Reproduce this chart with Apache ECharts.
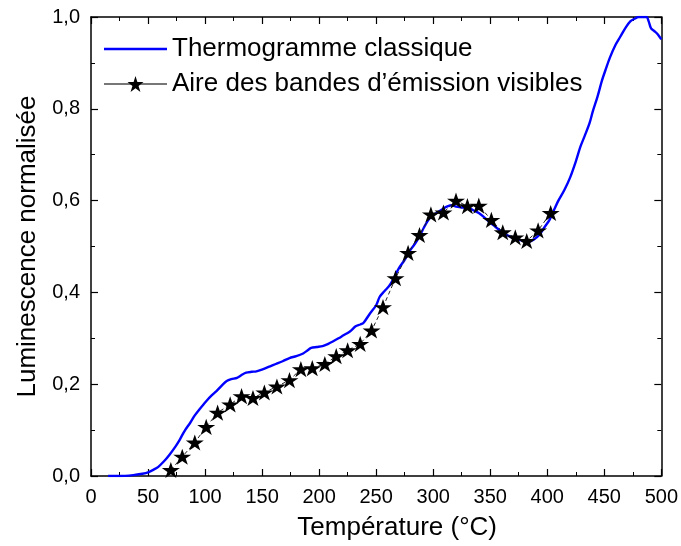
<!DOCTYPE html>
<html>
<head>
<meta charset="utf-8">
<script src="https://cdn.jsdelivr.net/npm/echarts@6/dist/echarts.min.js"></script>
<style>
  html, body { margin: 0; padding: 0; background: #fff; }
  #main { width: 681px; height: 546px; }
</style>
</head>
<body>
<div id="main"></div>
<script>
// Thermogramme classique (ligne bleue)
var thermoX = [15, 25, 37, 45, 50, 55, 59, 64, 69, 74, 78, 82, 87, 91, 95, 101, 106, 110, 115, 119,
    123, 128, 132, 136, 141, 145, 151, 157, 162, 168, 174, 180, 186, 190, 193, 198, 203, 208, 212, 217,
    221, 227, 232, 236, 239, 244, 250, 253, 257, 262, 266, 270, 275, 279, 284, 288, 292, 297, 301, 305,
    309, 313, 316, 320, 326, 332, 336, 340, 345, 349, 354, 358, 362, 367, 371, 375, 380, 384, 388, 393,
    397, 402, 406, 410, 415, 420, 425, 429, 433, 437, 440, 444, 448, 451, 455, 460, 464, 469, 473, 477,
    480, 484, 487, 489, 491, 494, 497, 500];
var thermoY = [0, 0, 0.002, 0.005, 0.008, 0.014, 0.020, 0.032, 0.047, 0.064, 0.080, 0.098, 0.116, 0.132, 0.145, 0.163, 0.176, 0.185, 0.198, 0.207,
    0.211, 0.214, 0.220, 0.225, 0.227, 0.228, 0.233, 0.239, 0.244, 0.250, 0.257, 0.261, 0.267, 0.274, 0.279, 0.281, 0.283, 0.288, 0.293, 0.300,
    0.306, 0.315, 0.326, 0.330, 0.334, 0.352, 0.372, 0.390, 0.402, 0.416, 0.434, 0.453, 0.471, 0.489, 0.506, 0.522, 0.542, 0.562, 0.570, 0.576,
    0.583, 0.588, 0.590, 0.587, 0.585, 0.583, 0.578, 0.573, 0.563, 0.554, 0.544, 0.536, 0.529, 0.522, 0.518, 0.515, 0.512, 0.511, 0.515, 0.525,
    0.540, 0.558, 0.580, 0.601, 0.623, 0.650, 0.685, 0.717, 0.742, 0.768, 0.795, 0.826, 0.862, 0.884, 0.912, 0.940, 0.957, 0.978, 0.991, 0.997,
    1.0, 1.0, 1.0, 0.99, 0.975, 0.969, 0.962, 0.951];

// Aire des bandes d'émission visibles (étoiles)
var starX = [70, 80, 91, 101, 111, 122, 132, 142, 152, 163, 174, 184, 194, 205, 215, 225, 236, 246, 256,
    267, 278, 288, 298, 309, 320, 330, 340, 351, 361, 372, 382, 392, 403];
var starY = [0.013, 0.042, 0.073, 0.107, 0.138, 0.156, 0.174, 0.170, 0.182, 0.195, 0.209, 0.233, 0.235, 0.244, 0.261, 0.274, 0.288, 0.317, 0.368,
    0.431, 0.486, 0.525, 0.570, 0.574, 0.600, 0.588, 0.589, 0.558, 0.531, 0.520, 0.512, 0.535, 0.573];

var xTicks = { min: 0, max: 500, interval: 50 };
var yTicks = { min: 0, max: 1, interval: 0.2 };

var FONT = "'Liberation Sans', Arial, sans-serif";
var STAR = 'path://M50,0 L61.2,34.5 L97.6,34.5 L68.2,55.9 L79.4,90.5 L50,69.1 L20.6,90.5 L31.8,55.9 L2.4,34.5 L38.8,34.5 Z';

function zip(xs, ys) {
    var out = [];
    for (var i = 0; i < xs.length; i++) {
        out.push([xs[i], ys[i]]);
    }
    return out;
}

function comma(v) {
    return v.toFixed(1).replace('.', ',');
}

// axes are framed on all four sides, ticks pointing inwards
var lineAxis = { show: true, onZero: false, lineStyle: { color: '#000', width: 1.5 } };
var tick = { show: true, inside: true, length: 7, lineStyle: { color: '#000', width: 1.2 } };
var minor = { show: true, splitNumber: 2, length: 4, lineStyle: { color: '#000', width: 1 } };

var chart = echarts.init(document.getElementById('main'));

var option = {
    backgroundColor: '#fff',
    animation: false,
    grid: { left: 91, right: 19, top: 17, bottom: 69 },
    legend: {
        orient: 'vertical',
        left: 98,
        top: 31,
        itemWidth: 63,
        itemHeight: 20,
        itemGap: 9,
        textStyle: { fontFamily: FONT, fontSize: 26, color: '#000', lineHeight: 26 },
        data: [
            { name: 'Thermogramme classique', icon: 'path://M0,0 L100,0 L100,4 L0,4 Z', itemStyle: { color: '#0000ff' } },
            { name: 'Aire des bandes d\u2019émission visibles', lineStyle: { color: '#777', type: 'solid', width: 2 } }
        ]
    },
    xAxis: [{
        type: 'value',
        min: xTicks.min, max: xTicks.max, interval: xTicks.interval,
        name: 'Température (°C)',
        nameLocation: 'middle',
        nameGap: 39,
        nameTextStyle: { fontFamily: FONT, fontSize: 26, color: '#000', padding: [0, 0, 0, 42] },
        axisLine: lineAxis,
        axisTick: tick,
        minorTick: minor,
        splitLine: { show: false },
        axisLabel: { fontFamily: FONT, fontSize: 20, color: '#000', margin: 11 }
    }, {
        type: 'value', position: 'top',
        min: xTicks.min, max: xTicks.max, interval: xTicks.interval,
        axisLine: lineAxis, axisTick: tick, minorTick: minor,
        splitLine: { show: false }, axisLabel: { show: false }
    }],
    yAxis: [{
        type: 'value',
        min: yTicks.min, max: yTicks.max, interval: yTicks.interval,
        name: 'Luminescence normalisée',
        nameLocation: 'middle',
        nameGap: 50,
        nameTextStyle: { fontFamily: FONT, fontSize: 26, color: '#000' },
        axisLine: lineAxis,
        axisTick: tick,
        minorTick: minor,
        splitLine: { show: false },
        axisLabel: { fontFamily: FONT, fontSize: 20, color: '#000', margin: 11, formatter: comma }
    }, {
        type: 'value', position: 'right',
        min: yTicks.min, max: yTicks.max, interval: yTicks.interval,
        axisLine: lineAxis, axisTick: tick, minorTick: minor,
        splitLine: { show: false }, axisLabel: { show: false }
    }],
    series: [{
        name: 'Thermogramme classique',
        type: 'line',
        data: zip(thermoX, thermoY),
        showSymbol: false,
        symbol: 'none',
        smooth: 0.3,
        clip: true,
        lineStyle: { color: '#0000ff', width: 2.4 },
        itemStyle: { color: '#0000ff' },
        z: 2
    }, {
        name: 'Aire des bandes d\u2019émission visibles',
        type: 'line',
        data: zip(starX, starY),
        symbol: STAR,
        symbolSize: [18, 17],
        symbolKeepAspect: true,
        lineStyle: { color: '#222', width: 1, type: [4, 3] },
        itemStyle: { color: '#000' },
        z: 3
    }]
};

chart.setOption(option);
</script>
</body>
</html>
